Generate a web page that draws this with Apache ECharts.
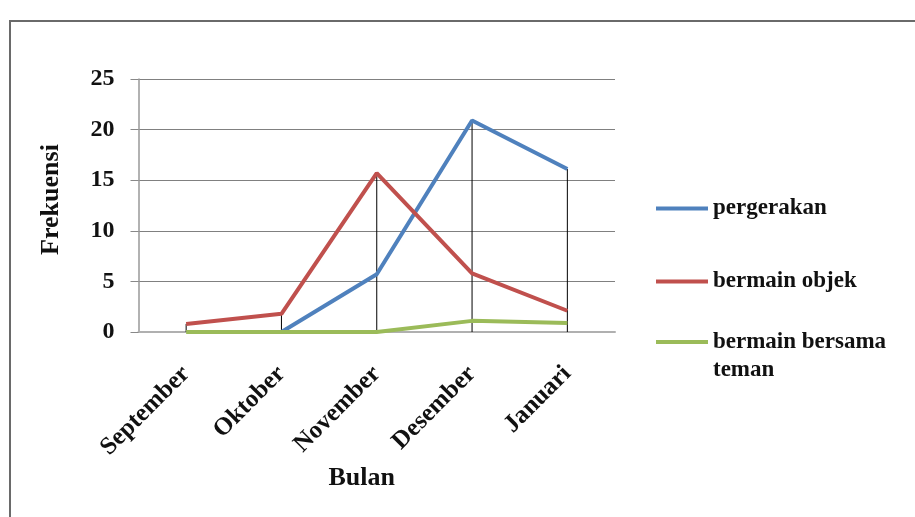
<!DOCTYPE html>
<html>
<head>
<meta charset="utf-8">
<script src="https://cdn.jsdelivr.net/npm/echarts@6/dist/echarts.min.js"></script>
<style>
  html, body { margin: 0; padding: 0; background: #fff; }
  #chart { width: 915px; height: 517px; }
</style>
</head>
<body>
<div id="chart"></div>
<script>
// Months on the horizontal axis
const categories = ['September', 'Oktober', 'November', 'Desember', 'Januari'];

// Frequency per month for each play type
const pergerakan = [null, 0, 5.7, 20.9, 16.1];
const bermainObjek = [0.8, 1.8, 15.7, 5.8, 2.1];
const bermainBersamaTeman = [0, 0, 0, 1.1, 0.9];

// Value axis ticks
const yTicks = [0, 5, 10, 15, 20, 25];

const FONT = '"Liberation Serif", "Times New Roman", serif';

// Drop lines run from the highest point of each month down to zero
const dropLines = categories.map((c, i) => {
  const vals = [pergerakan[i], bermainObjek[i], bermainBersamaTeman[i]].filter(v => v != null);
  return [i, Math.max.apply(null, vals)];
});

const legendText = { fontFamily: FONT, fontSize: 23, fontWeight: 'bold', color: '#111' };

const chart = echarts.init(document.getElementById('chart'), null, { renderer: 'canvas' });

chart.setOption({
  backgroundColor: '#ffffff',
  animation: false,
  graphic: [{
    type: 'rect',
    shape: { x: 10, y: 21, width: 920, height: 510 },
    style: { fill: 'none', stroke: '#6a6a6a', lineWidth: 2 },
    z: -10
  }],
  grid: { left: 138.5, right: 300, top: 79, bottom: 185, containLabel: false },
  legend: [{
    data: ['pergerakan', 'bermain objek'],
    orient: 'vertical',
    left: 654,
    top: 197,
    padding: 0,
    itemWidth: 52,
    itemHeight: 20,
    itemGap: 50,
    itemStyle: { opacity: 0 },
    lineStyle: { width: 4 },
    textStyle: Object.assign({ lineHeight: 20 }, legendText)
  }, {
    data: ['bermain bersama teman'],
    orient: 'vertical',
    left: 654,
    top: 300,
    padding: 0,
    itemWidth: 52,
    itemHeight: 20,
    itemStyle: { opacity: 0 },
    lineStyle: { width: 4 },
    // a blank first line keeps the icon level with "bermain bersama"
    formatter: () => ' \nbermain bersama\nteman',
    textStyle: Object.assign({ lineHeight: 28 }, legendText)
  }],
  xAxis: {
    type: 'category',
    data: categories,
    boundaryGap: true,
    name: 'Bulan',
    nameLocation: 'middle',
    nameGap: 133,
    nameTextStyle: { fontFamily: FONT, fontSize: 26, fontWeight: 'bold', color: '#111', padding: [0, 30, 0, 0] },
    axisLine: { lineStyle: { color: '#b0b0b0', width: 2 } },
    axisTick: { show: false },
    axisLabel: {
      rotate: 45,
      margin: 38,
      interval: 0,
      fontFamily: FONT, fontSize: 25, fontWeight: 'bold', color: '#111'
    },
    splitLine: { show: false }
  },
  yAxis: {
    type: 'value',
    min: 0,
    max: 25,
    interval: 5,
    name: 'Frekuensi',
    nameLocation: 'middle',
    nameGap: 74,
    nameTextStyle: { fontFamily: FONT, fontSize: 26, fontWeight: 'bold', color: '#111', padding: [0, 0, 0, 12] },
    axisLine: { show: true, lineStyle: { color: '#999', width: 1.5 } },
    axisTick: { show: true, length: 8, lineStyle: { color: '#888' } },
    axisLabel: {
      margin: 24,
      fontFamily: FONT, fontSize: 24, fontWeight: 'bold', color: '#111',
      formatter: v => yTicks.includes(v) ? String(v) : ''
    },
    splitLine: { show: true, lineStyle: { color: '#808080', width: 1 } }
  },
  series: [{
    type: 'custom',
    name: 'drop',
    silent: true,
    z: 1,
    data: dropLines,
    renderItem: (params, api) => {
      const top = api.coord([api.value(0), api.value(1)]);
      const bottom = api.coord([api.value(0), 0]);
      return {
        type: 'line',
        shape: { x1: top[0], y1: top[1], x2: bottom[0], y2: bottom[1] },
        style: { stroke: '#000', lineWidth: 1 }
      };
    }
  }, {
    name: 'pergerakan',
    type: 'line',
    data: pergerakan,
    showSymbol: false,
    symbol: 'none',
    z: 3,
    lineStyle: { color: '#4F81BD', width: 4 },
    itemStyle: { color: '#4F81BD' }
  }, {
    name: 'bermain objek',
    type: 'line',
    data: bermainObjek,
    showSymbol: false,
    symbol: 'none',
    z: 3,
    lineStyle: { color: '#C0504D', width: 4 },
    itemStyle: { color: '#C0504D' }
  }, {
    name: 'bermain bersama teman',
    type: 'line',
    data: bermainBersamaTeman,
    showSymbol: false,
    symbol: 'none',
    z: 3,
    lineStyle: { color: '#9BBB59', width: 4 },
    itemStyle: { color: '#9BBB59' }
  }]
});
</script>
</body>
</html>
